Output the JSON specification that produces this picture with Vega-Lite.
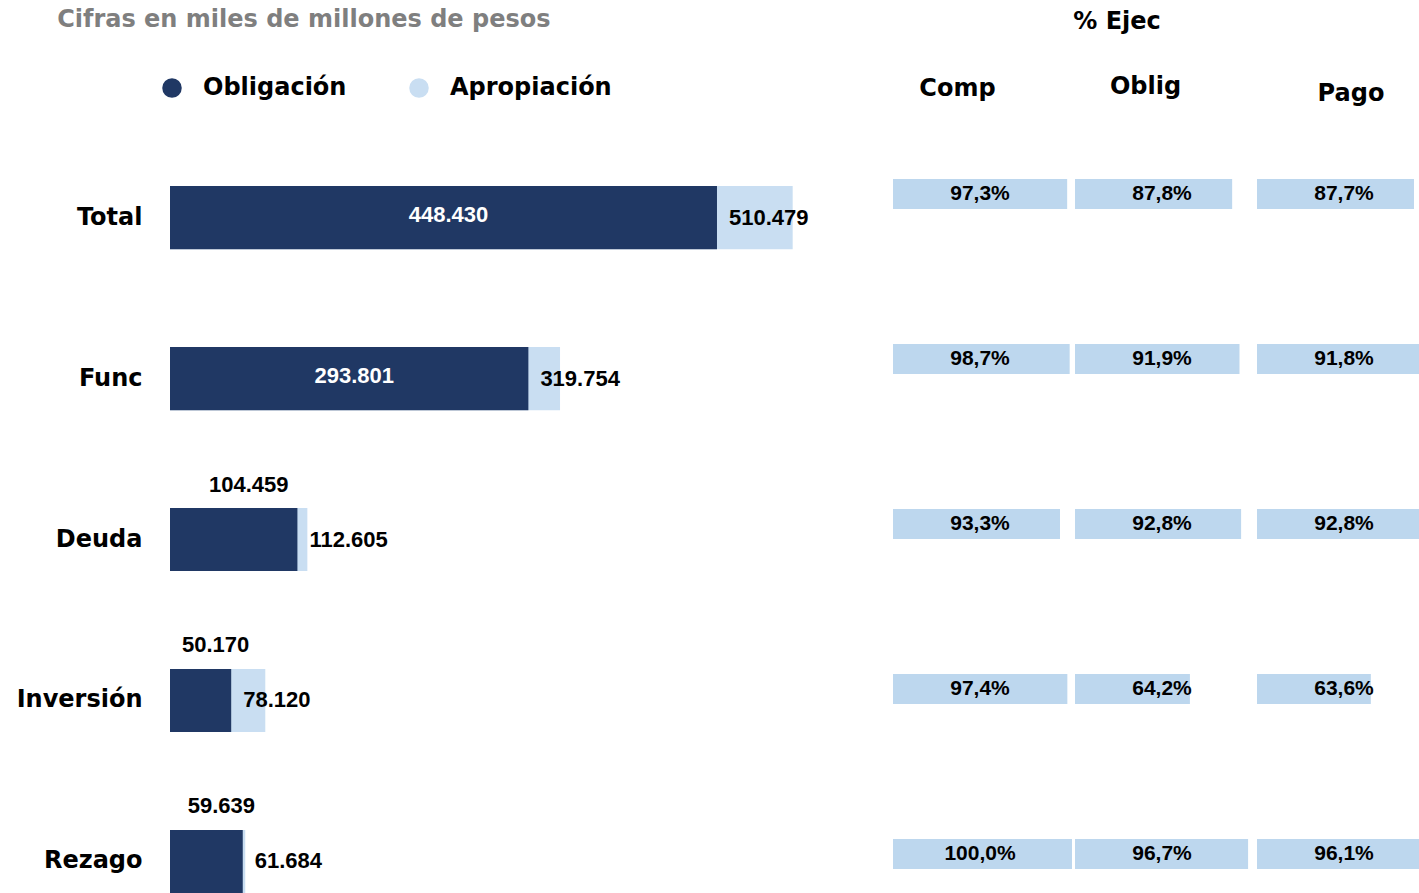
{
  "$schema": "https://vega.github.io/schema/vega-lite/v6.json",
  "padding": {"left": 16, "top": 8, "right": 0, "bottom": 0},
  "background": "white",
  "config": {
    "view": {"stroke": null},
    "locale": {"number": {"decimal": ",", "thousands": ".", "grouping": [3], "currency": ["$", ""]}},
    "font": "DejaVu Sans",
    "concat": {"spacing": 23}
  },
  "datasets": {
    "d": [
      {"cat": "Total", "oblig": 448430, "aprop": 510479, "comp": 0.973, "obl": 0.878, "pago": 0.877},
      {"cat": "Func", "oblig": 293801, "aprop": 319754, "comp": 0.987, "obl": 0.919, "pago": 0.918},
      {"cat": "Deuda", "oblig": 104459, "aprop": 112605, "comp": 0.933, "obl": 0.928, "pago": 0.928},
      {"cat": "Inversión", "oblig": 50170, "aprop": 78120, "comp": 0.974, "obl": 0.642, "pago": 0.636},
      {"cat": "Rezago", "oblig": 59639, "aprop": 61684, "comp": 1.0, "obl": 0.967, "pago": 0.961}
    ]
  },
  "data": {"name": "d"},
  "hconcat": [
    {
      "title": {"text": "Cifras en miles de millones de pesos", "anchor": "start", "frame": "bounds", "dx": 41, "font": "DejaVu Sans", "fontSize": 24, "fontWeight": "bold", "color": "#7f7f7f", "offset": 147},
      "width": 700,
      "height": 714,
      "encoding": {
        "y": {"field": "cat", "type": "nominal", "sort": null,
          "scale": {"paddingInner": 0.608, "paddingOuter": 0.022, "align": 1},
          "axis": {"title": null, "ticks": false, "domain": false, "labelPadding": 28, "labelFont": "DejaVu Sans", "labelFontSize": 24, "labelFontWeight": "bold", "labelColor": "black"}}
      },
      "layer": [
        {
          "mark": {"type": "bar"},
          "encoding": {
            "x": {"field": "aprop", "type": "quantitative", "stack": null, "scale": {"domain": [0, 573870], "nice": false}, "axis": null},
            "color": {"datum": "Apropiación", "type": "nominal",
              "scale": {"domain": ["Obligación", "Apropiación"], "range": ["#203864", "#c9def2"]},
              "legend": {"orient": "none", "legendX": -10, "legendY": -103, "direction": "horizontal", "title": null,
                "symbolType": "circle", "symbolSize": 380, "symbolStrokeWidth": 0,
                "labelFont": "DejaVu Sans", "labelFontSize": 24, "labelFontWeight": "bold", "labelColor": "black",
                "labelLimit": 400, "labelOffset": 19, "columnPadding": 60}}
          }
        },
        {
          "mark": {"type": "bar"},
          "encoding": {
            "x": {"field": "oblig", "type": "quantitative", "stack": null},
            "color": {"datum": "Obligación", "type": "nominal"}
          }
        },
        {
          "mark": {"type": "text", "align": "left", "baseline": "middle", "dx": 12, "font": "Liberation Sans", "fontWeight": "bold", "fontSize": 22, "color": "black"},
          "encoding": {
            "x": {"field": "oblig", "type": "quantitative", "stack": null},
            "text": {"field": "aprop", "type": "quantitative", "format": ",.0f"}
          }
        },
        {
          "transform": [{"filter": "datum.oblig > 200000"}],
          "mark": {"type": "text", "align": "center", "baseline": "middle", "dx": 5, "dy": -3, "font": "Liberation Sans", "fontWeight": "bold", "fontSize": 22, "color": "white"},
          "encoding": {
            "x": {"field": "oblig", "type": "quantitative", "stack": "zero", "bandPosition": 0.5},
            "text": {"field": "oblig", "type": "quantitative", "format": ",.0f"}
          }
        },
        {
          "transform": [{"filter": "datum.oblig <= 200000"}],
          "mark": {"type": "text", "align": "center", "baseline": "middle", "dx": 15, "dy": -55, "font": "Liberation Sans", "fontWeight": "bold", "fontSize": 22, "color": "black"},
          "encoding": {
            "x": {"field": "oblig", "type": "quantitative", "stack": "zero", "bandPosition": 0.5},
            "text": {"field": "oblig", "type": "quantitative", "format": ",.0f"}
          }
        }
      ]
    },
    {
      "title": {"text": "% Ejec", "anchor": "middle", "dx": -39, "font": "DejaVu Sans", "fontSize": 24, "fontWeight": "bold", "color": "black", "offset": 41},
      "spacing": 3,
      "hconcat": [
        {
          "width": 179,
          "height": 690,
          "title": {"text": "Comp", "font": "DejaVu Sans", "fontSize": 24, "fontWeight": "bold", "color": "black", "offset": 78, "dx": -25},
          "encoding": {"y": {"field": "cat", "type": "nominal", "sort": null, "scale": {"paddingInner": 0.818, "paddingOuter": 0}, "axis": null}},
          "layer": [
            {"mark": {"type": "bar", "color": "#bdd7ee"},
             "encoding": {"x": {"field": "comp", "type": "quantitative", "scale": {"domain": [0, 1], "nice": false}, "axis": null}}},
            {"mark": {"type": "text", "align": "center", "baseline": "middle", "font": "Liberation Sans", "fontWeight": "bold", "fontSize": 21, "color": "black"},
             "encoding": {"x": {"datum": 0.486, "type": "quantitative"}, "text": {"field": "comp", "type": "quantitative", "format": ".1%"}}}
          ]
        },
        {
          "width": 179,
          "height": 690,
          "title": {"text": "Oblig", "font": "DejaVu Sans", "fontSize": 24, "fontWeight": "bold", "color": "black", "offset": 80, "dx": -19},
          "encoding": {"y": {"field": "cat", "type": "nominal", "sort": null, "scale": {"paddingInner": 0.818, "paddingOuter": 0}, "axis": null}},
          "layer": [
            {"mark": {"type": "bar", "color": "#bdd7ee"},
             "encoding": {"x": {"field": "obl", "type": "quantitative", "scale": {"domain": [0, 1], "nice": false}, "axis": null}}},
            {"mark": {"type": "text", "align": "center", "baseline": "middle", "font": "Liberation Sans", "fontWeight": "bold", "fontSize": 21, "color": "black"},
             "encoding": {"x": {"datum": 0.486, "type": "quantitative"}, "text": {"field": "obl", "type": "quantitative", "format": ".1%"}}}
          ]
        },
        {
          "width": 162,
          "height": 690,
          "title": {"text": "Pago", "font": "DejaVu Sans", "fontSize": 24, "fontWeight": "bold", "color": "black", "offset": 73, "dx": 13},
          "encoding": {"y": {"field": "cat", "type": "nominal", "sort": null, "scale": {"paddingInner": 0.818, "paddingOuter": 0}, "axis": null}},
          "layer": [
            {"mark": {"type": "bar", "color": "#bdd7ee", "clip": true},
             "encoding": {"x": {"field": "pago", "type": "quantitative", "scale": {"domain": [0, 0.905], "nice": false}, "axis": null}}},
            {"mark": {"type": "text", "align": "center", "baseline": "middle", "font": "Liberation Sans", "fontWeight": "bold", "fontSize": 21, "color": "black"},
             "encoding": {"x": {"datum": 0.486, "type": "quantitative"}, "text": {"field": "pago", "type": "quantitative", "format": ".1%"}}}
          ]
        }
      ]
    }
  ]
}
